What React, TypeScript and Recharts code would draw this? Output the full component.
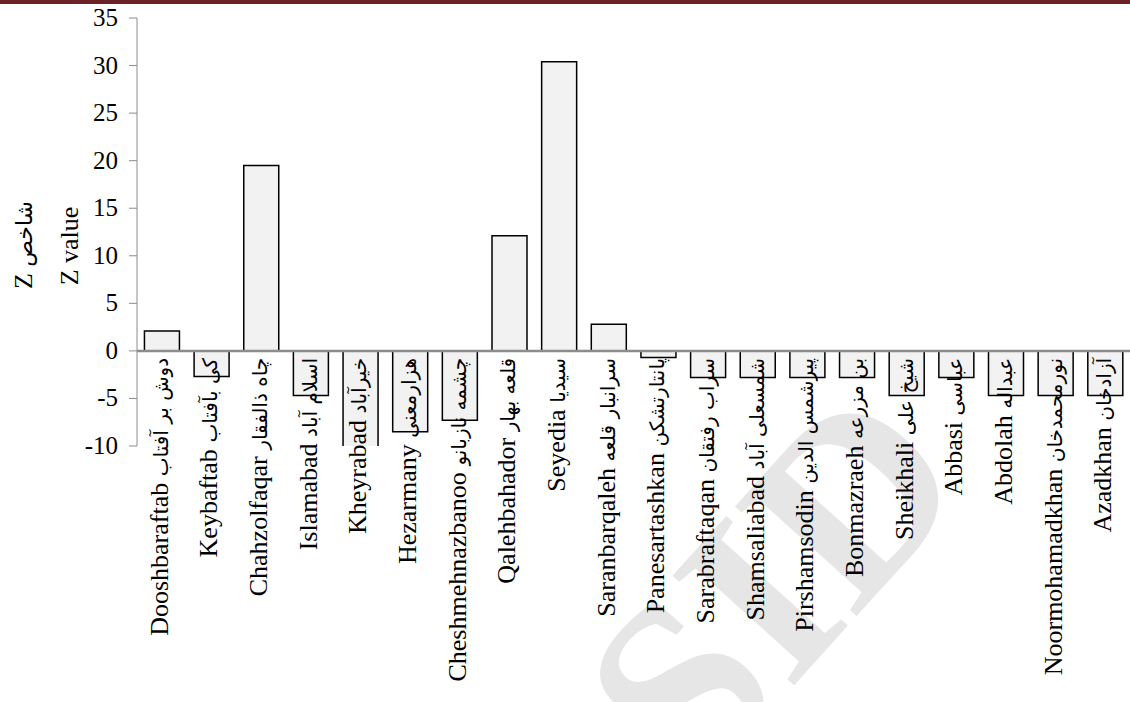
import React from 'react';
import { BarChart, Bar, XAxis, YAxis, ReferenceLine } from 'recharts';

// villages: English name + Persian name
const namesEn = [
  'Dooshbaraftab', 'Keybaftab', 'Chahzolfaqar', 'Islamabad', 'Kheyrabad',
  'Hezarmany', 'Cheshmehnazbanoo', 'Qalehbahador', 'Seyedia', 'Saranbarqaleh',
  'Panesartashkan', 'Sarabraftaqan', 'Shamsaliabad', 'Pirshamsodin', 'Bonmazraeh',
  'Sheikhali', 'Abbasi', 'Abdolah', 'Noormohamadkhan', 'Azadkhan',
];
const namesFa = [
  'دوش بر آفتاب', 'کی بآفتاب', 'چاه ذالفقار', 'اسلام آباد', 'خیرآباد',
  'هزارمعنی', 'چشمه نازبانو', 'قلعه بهار', 'سیدیا', 'سرانبار قلعه',
  'پانتارتشکن', 'سراب رفتقان', 'شمسعلی آباد', 'پیرشمس الدین', 'بن مزرعه',
  'شیخ علی', 'عباسی', 'عبداله', 'نورمحمدخان', 'آزادخان',
];
const zValues = [
  2.1, -2.7, 19.5, -4.7, -11,
  -8.5, -7.3, 12.1, 30.4, 2.8,
  -0.7, -2.8, -2.8, -2.8, -2.8,
  -4.7, -2.8, -4.7, -4.7, -4.7,
];
const yTicks = [-10, -5, 0, 5, 10, 15, 20, 25, 30, 35];

const data = namesEn.map((en, i) => ({ name: en, fa: namesFa[i], z: zValues[i] }));

const Y_MIN = -10;
const Y_MAX = 35;
const PLOT_TOP = 18;
const PLOT_BOTTOM = 446;
const zeroY = PLOT_TOP + ((Y_MAX - 0) / (Y_MAX - Y_MIN)) * (PLOT_BOTTOM - PLOT_TOP);

const serif = "'Liberation Serif', 'Times New Roman', 'DejaVu Serif', serif";
const faFont = "'DejaVu Sans', 'Noto Sans', sans-serif";

const NameTick = (props: any) => {
  const { x, payload, index } = props;
  const fa = namesFa[index] ?? '';
  return (
    <g transform={`translate(${x + 6}, ${zeroY + 7}) rotate(-90)`}>
      <text textAnchor="end" fill="#000" fontFamily={serif} fontSize={26}>
        <tspan>{payload.value} </tspan>
        <tspan fontFamily={faFont} fontSize={20}>{fa}</tspan>
      </text>
    </g>
  );
};

const ValueTick = (props: any) => {
  const { x, y, payload } = props;
  return (
    <text x={x - 9} y={y} dy={8} textAnchor="end" fill="#000" fontFamily={serif} fontSize={25}>
      {payload.value}
    </text>
  );
};

const AxisTitle = () => (
  <g>
    <text
      transform="translate(78, 246) rotate(-90)"
      textAnchor="middle"
      fontFamily={serif}
      fontSize={26}
      fill="#000"
    >
      Z value
    </text>
    <text
      transform="translate(32, 245) rotate(-90)"
      textAnchor="middle"
      direction="rtl"
      fontFamily={serif}
      fontSize={26}
      fill="#000"
    >
      <tspan fontFamily={faFont} fontSize={22}>شاخص</tspan> Z
    </text>
  </g>
);

export default function App() {
  return (
    <div style={{ position: 'relative', width: 1130, height: 702, background: '#fff', overflow: 'hidden' }}>
      <style>{`body{margin:0}`}</style>
      <div style={{ position: 'absolute', left: 0, top: 0, width: 1130, height: 4, background: '#6b2226' }} />
      {/* watermark */}
      <svg width={1130} height={702} style={{ position: 'absolute', left: 0, top: 0 }}>
        <text
          transform="translate(835, 640) rotate(-48)"
          textAnchor="middle"
          fontFamily={serif}
          fontSize={250}
          fontWeight="bold"
          fill="#e6e6e6"
        >
          SID
        </text>
      </svg>
      <div style={{ position: 'absolute', left: 0, top: 0 }}>
        <BarChart
          width={1130}
          height={702}
          data={data}
          margin={{ top: PLOT_TOP, right: 0, bottom: 6, left: 0 }}
          barCategoryGap="15%"
        >
          <XAxis
            dataKey="name"
            height={702 - PLOT_BOTTOM - 6}
            axisLine={false}
            tickLine={false}
            interval={0}
            tick={<NameTick />}
          />
          <YAxis
            width={137}
            domain={[Y_MIN, Y_MAX]}
            ticks={yTicks}
            allowDataOverflow
            interval={0}
            stroke="#8c8c8c"
            tickSize={8}
            tick={<ValueTick />}
            label={{ content: () => <AxisTitle /> }}
          />
          <Bar dataKey="z" fill="#f2f2f2" stroke="#000" strokeWidth={1.5} isAnimationActive={false} />
          <ReferenceLine y={0} stroke="#8c8c8c" strokeWidth={2.5} />
        </BarChart>
      </div>
    </div>
  );
}
